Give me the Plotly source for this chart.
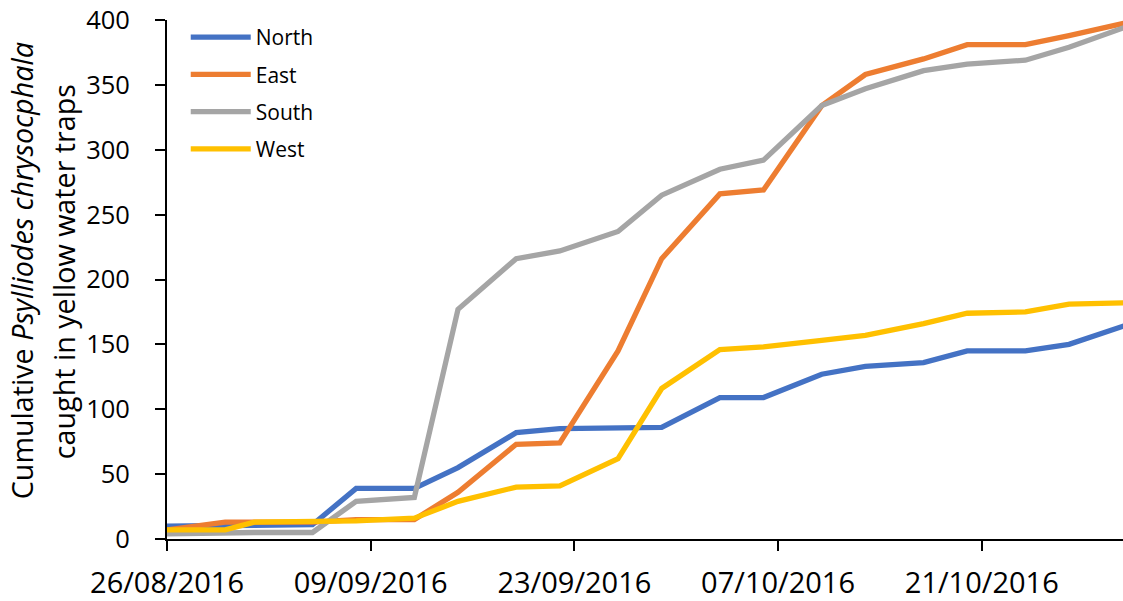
import plotly.graph_objects as go

dates = ["2016-08-26", "2016-08-30", "2016-09-01", "2016-09-05", "2016-09-08",
         "2016-09-12", "2016-09-15", "2016-09-19", "2016-09-22", "2016-09-26",
         "2016-09-29", "2016-10-03", "2016-10-06", "2016-10-10", "2016-10-13",
         "2016-10-17", "2016-10-20", "2016-10-24", "2016-10-27", "2016-10-31"]

north = [10, 10, 10, 11, 39, 39, 55, 82, 85, 86, 86, 109, 109, 127, 133, 136, 145, 145, 150, 165]
east = [7, 13, 13, 13, 15, 15, 36, 73, 74, 145, 216, 266, 269, 334, 358, 370, 381, 381, 388, 398]
south = [4, 5, 5, 5, 29, 32, 177, 216, 222, 237, 265, 285, 292, 334, 347, 361, 366, 369, 379, 395]
west = [7, 7, 13, 13, 14, 16, 29, 40, 41, 62, 116, 146, 148, 153, 157, 166, 174, 175, 181, 182]

series_names = ["North", "East", "South", "West"]
series_values = [north, east, south, west]
colors = ["#4472C4", "#ED7D31", "#A5A5A5", "#FFC000"]

fig = go.Figure()
for name, vals, col in zip(series_names, series_values, colors):
    fig.add_trace(go.Scatter(
        x=dates, y=vals, name=name, mode="lines",
        line=dict(color=col, width=5.3),
        legendgroup=name,
    ))

FONT = "Open Sans"
fig.update_layout(
    width=1123, height=601,
    margin=dict(l=167, r=0, t=20, b=60),
    paper_bgcolor="white", plot_bgcolor="white",
    font=dict(family=FONT, color="black"),
    showlegend=True,
    legend=dict(
        x=0.0196, y=1.006, xanchor="left", yanchor="top",
        bgcolor="rgba(0,0,0,0)", font=dict(size=21, family=FONT, color="black"),
        tracegroupgap=7, itemwidth=60,
    ),
    xaxis=dict(
        type="date",
        range=["2016-08-26", "2016-10-30 17:00"],
        tick0="2016-08-26", dtick=14 * 86400000,
        tickformat="%d/%m/%Y",
        showgrid=False, zeroline=False,
        showline=True, linecolor="black", linewidth=2,
        ticks="outside", ticklen=10, tickwidth=2, tickcolor="black",
        tickfont=dict(size=29, family=FONT, color="black"),
        ticklabelstandoff=7,
    ),
    yaxis=dict(
        range=[0, 400], dtick=50,
        showgrid=False, zeroline=False,
        showline=True, linecolor="black", linewidth=2,
        ticks="outside", ticklen=10, tickwidth=2, tickcolor="black",
        tickfont=dict(size=25.5, family=FONT, color="black"),
        ticklabelstandoff=20,
    ),
    annotations=[
        dict(text="Cumulative <i>Psylliodes chrysocphala</i>", xref="paper", yref="paper",
             x=-0.1527, y=0.516, xanchor="center", yanchor="middle", textangle=-90,
             showarrow=False, font=dict(size=28.7, family=FONT, color="black")),
        dict(text="caught in yellow water traps", xref="paper", yref="paper",
             x=-0.1088, y=0.516, xanchor="center", yanchor="middle", textangle=-90,
             showarrow=False, font=dict(size=28.7, family=FONT, color="black")),
    ],
)

fig.write_html("out.html", config={"displayModeBar": False},
               post_script="document.body.style.margin='0';document.body.style.overflow='hidden';")
